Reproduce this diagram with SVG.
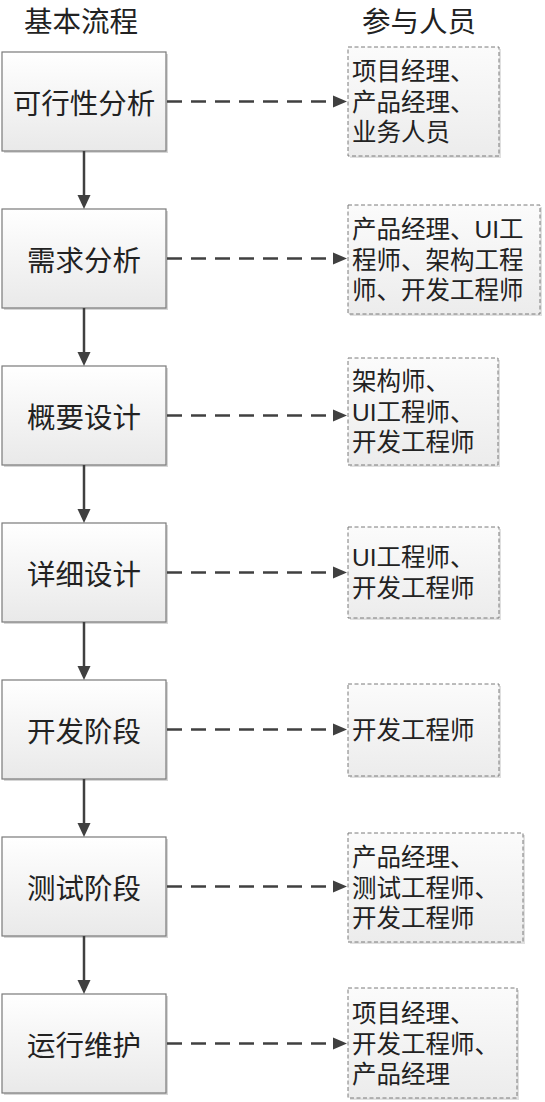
<svg xmlns="http://www.w3.org/2000/svg" width="545" height="1102" viewBox="0 0 545 1102">
<defs>
<linearGradient id="gL" x1="0" y1="0" x2="0" y2="1">
<stop offset="0" stop-color="#ffffff"/>
<stop offset="1" stop-color="#e9e9e9"/>
</linearGradient>
<linearGradient id="gR" x1="0" y1="0" x2="0" y2="1">
<stop offset="0" stop-color="#fbfbfb"/>
<stop offset="1" stop-color="#ececec"/>
</linearGradient>
</defs>
<style>
.title{font-family:"Noto Sans CJK SC","Noto Sans",sans-serif;font-size:28.5px;fill:#222;text-anchor:middle;dominant-baseline:central}
.step rect.sh{fill:#d6d6d6}
.step rect.bx{fill:url(#gL);stroke:#7a7a7a;stroke-width:1.2}
.step text{font-family:"Noto Sans CJK SC","Noto Sans",sans-serif;font-size:28.5px;fill:#222;text-anchor:middle;dominant-baseline:central}
.who rect.sh{fill:#e0e0e0}
.who rect.bx{fill:url(#gR);stroke:#7a7a7a;stroke-width:1;stroke-dasharray:4 2.5}
.who text{font-family:"Liberation Sans","Noto Sans CJK SC",sans-serif;font-size:24.5px;fill:#222}
.flow line{stroke:#404040;stroke-width:2.5}
.flow line.d{stroke-dasharray:15 9}
.flow polygon{fill:#404040}
</style>
<text class="title" x="81" y="19">基本流程</text>
<text class="title" x="419" y="19">参与人员</text>

<g id="s1" class="step"><rect class="sh" x="4" y="54" width="164" height="99"/><rect class="bx" x="2" y="52" width="164" height="99"/><text x="84" y="101.5">可行性分析</text></g>
<g id="s2" class="step"><rect class="sh" x="4" y="211" width="164" height="99"/><rect class="bx" x="2" y="209" width="164" height="99"/><text x="84" y="258.5">需求分析</text></g>
<g id="s3" class="step"><rect class="sh" x="4" y="368" width="164" height="99"/><rect class="bx" x="2" y="366" width="164" height="99"/><text x="84" y="415.5">概要设计</text></g>
<g id="s4" class="step"><rect class="sh" x="4" y="525" width="164" height="99"/><rect class="bx" x="2" y="523" width="164" height="99"/><text x="84" y="572.5">详细设计</text></g>
<g id="s5" class="step"><rect class="sh" x="4" y="682" width="164" height="99"/><rect class="bx" x="2" y="680" width="164" height="99"/><text x="84" y="729.5">开发阶段</text></g>
<g id="s6" class="step"><rect class="sh" x="4" y="839" width="164" height="99"/><rect class="bx" x="2" y="837" width="164" height="99"/><text x="84" y="886.5">测试阶段</text></g>
<g id="s7" class="step"><rect class="sh" x="4" y="996" width="164" height="99"/><rect class="bx" x="2" y="994" width="164" height="99"/><text x="84" y="1043.5">运行维护</text></g>

<g id="p1" class="who"><rect class="sh" x="350" y="49" width="151" height="109"/><rect class="bx" x="348" y="47" width="151" height="109"/>
<text x="352" y="80"><tspan x="352">项目经理、</tspan><tspan x="352" dy="30.5">产品经理、</tspan><tspan x="352" dy="30.5">业务人员</tspan></text></g>
<g id="p2" class="who"><rect class="sh" x="350" y="207" width="192" height="109"/><rect class="bx" x="348" y="205" width="192" height="109"/>
<text x="352" y="238"><tspan x="352">产品经理、UI工</tspan><tspan x="352" dy="30.5">程师、架构工程</tspan><tspan x="352" dy="30.5">师、开发工程师</tspan></text></g>
<g id="p3" class="who"><rect class="sh" x="350" y="360" width="150" height="107"/><rect class="bx" x="348" y="358" width="150" height="107"/>
<text x="352" y="390"><tspan x="352">架构师、</tspan><tspan x="352" dy="30.5">UI工程师、</tspan><tspan x="352" dy="30.5">开发工程师</tspan></text></g>
<g id="p4" class="who"><rect class="sh" x="350" y="529" width="151" height="91"/><rect class="bx" x="348" y="527" width="151" height="91"/>
<text x="352" y="566"><tspan x="352">UI工程师、</tspan><tspan x="352" dy="31">开发工程师</tspan></text></g>
<g id="p5" class="who"><rect class="sh" x="350" y="686" width="151" height="92"/><rect class="bx" x="348" y="684" width="151" height="92"/>
<text x="352" y="739">开发工程师</text></g>
<g id="p6" class="who"><rect class="sh" x="350" y="835" width="175" height="109"/><rect class="bx" x="348" y="833" width="175" height="109"/>
<text x="352" y="866"><tspan x="352">产品经理、</tspan><tspan x="352" dy="30.5">测试工程师、</tspan><tspan x="352" dy="30.5">开发工程师</tspan></text></g>
<g id="p7" class="who"><rect class="sh" x="350" y="990" width="169" height="110"/><rect class="bx" x="348" y="988" width="169" height="110"/>
<text x="352" y="1022"><tspan x="352">项目经理、</tspan><tspan x="352" dy="30.5">开发工程师、</tspan><tspan x="352" dy="30.5">产品经理</tspan></text></g>

<g id="connectors" class="flow">
<line x1="84" y1="151" x2="84" y2="197"/><polygon points="77.5,195 90.5,195 84,209"/>
<line x1="84" y1="308" x2="84" y2="354"/><polygon points="77.5,352 90.5,352 84,366"/>
<line x1="84" y1="465" x2="84" y2="511"/><polygon points="77.5,509 90.5,509 84,523"/>
<line x1="84" y1="622" x2="84" y2="668"/><polygon points="77.5,666 90.5,666 84,680"/>
<line x1="84" y1="779" x2="84" y2="825"/><polygon points="77.5,823 90.5,823 84,837"/>
<line x1="84" y1="936" x2="84" y2="982"/><polygon points="77.5,980 90.5,980 84,994"/>

<line class="d" x1="167" y1="101.5" x2="334" y2="101.5"/><polygon points="333,95.5 333,107.5 347,101.5"/>
<line class="d" x1="167" y1="258.5" x2="334" y2="258.5"/><polygon points="333,252.5 333,264.5 347,258.5"/>
<line class="d" x1="167" y1="415.5" x2="334" y2="415.5"/><polygon points="333,409.5 333,421.5 347,415.5"/>
<line class="d" x1="167" y1="572.5" x2="334" y2="572.5"/><polygon points="333,566.5 333,578.5 347,572.5"/>
<line class="d" x1="167" y1="729.5" x2="334" y2="729.5"/><polygon points="333,723.5 333,735.5 347,729.5"/>
<line class="d" x1="167" y1="886.5" x2="334" y2="886.5"/><polygon points="333,880.5 333,892.5 347,886.5"/>
<line class="d" x1="167" y1="1043.5" x2="334" y2="1043.5"/><polygon points="333,1037.5 333,1049.5 347,1043.5"/>
</g>
</svg>
